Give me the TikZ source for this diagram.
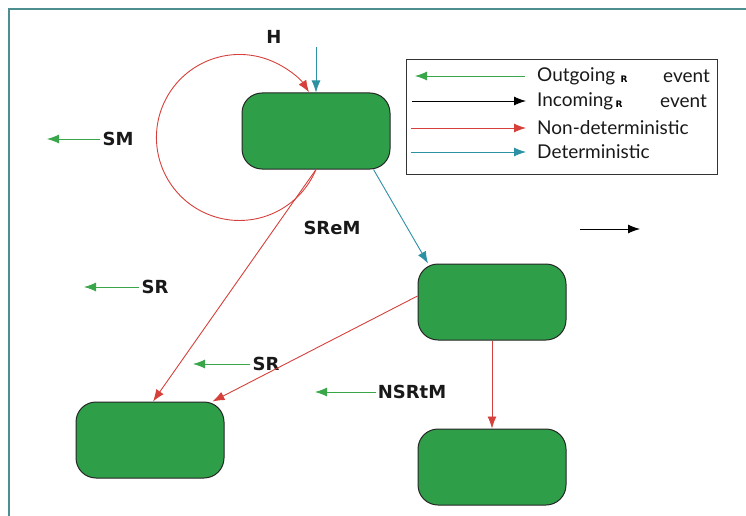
\documentclass[tikz,border=0pt]{standalone}
\usepackage{fontspec}
\setmainfont{Lato}
\newfontfamily\labfont{DejaVu Sans}
\usetikzlibrary{arrows.meta}
\definecolor{stgreen}{RGB}{46,158,72}
\definecolor{ndred}{RGB}{214,64,58}
\definecolor{detteal}{RGB}{43,145,163}
\definecolor{outgreen}{RGB}{58,166,74}
\definecolor{framec}{RGB}{77,143,144}
\tikzset{
  stbox/.style={draw=black!85, line width=1pt, fill=stgreen, rounded corners=20pt,
    minimum width=148pt, minimum height=76pt, inner sep=0pt},
  tip/.style={-{Latex[length=12pt,width=9pt]}},
  ndline/.style={tip, draw=ndred, line width=0.9pt},
  detline/.style={tip, draw=detteal, line width=0.9pt},
  outline/.style={tip, draw=outgreen, line width=0.9pt},
  inline/.style={tip, draw=black, line width=0.9pt},
  lab/.style={font=\labfont\bfseries\fontsize{18}{20}\selectfont, inner sep=2pt, text=black!90},
  legtext/.style={anchor=west, inner sep=0pt, font=\fontsize{19}{21}\selectfont, text=black!90},
  glyph/.style={inner sep=0pt, font=\labfont\bfseries\fontsize{9}{10}\selectfont}
}
\begin{document}
\begin{tikzpicture}[x=1pt,y=-1pt]
\useasboundingbox (0,0) rectangle (746,516);
% frame
\draw[framec, line width=1.5pt] (9,516) -- (9,9) -- (746,9);
% states
\node[stbox] (A) at (316,131) {};
\node[stbox] (B) at (492,302) {};
\node[stbox] (C) at (150,440) {};
\node[stbox] (D) at (492,467) {};
% labels
\node[lab] (lH) at (274,37) {H};
\node[lab] (l1) at (118,139) {SM};
\node[lab] (lm) at (332,228) {SReM};
\node[lab] (l2) at (155,287) {SR};
\node[lab] (l3) at (266,364) {SR};
\node[lab] (l4) at (412,392) {NSRtM};
% connectors
\coordinate (tin) at (316,47);
\draw[detline] (tin) -- (A.north);
\draw[ndline] (A.south) arc[start angle=22.7, end angle=327, radius=83];
\draw[ndline] (A.south) -- ([xshift=3pt]C.north);
\draw[detline] ([xshift=-17pt]A.south east) -- ([xshift=-64pt]B.north);
\draw[ndline] ([yshift=6pt]B.west) -- ([xshift=-12pt]C.north east);
\draw[ndline] (B.south) -- (D.north);
% outgoing events
\coordinate (o1) at (47,139);
\coordinate (o2) at (84,287);
\coordinate (o3) at (193,364);
\coordinate (o4) at (315,392);
\draw[outline] (l1.west) -- (o1);
\draw[outline] (l2.west) -- (o2);
\draw[outline] (l3.west) -- (o3);
\draw[outline] (l4.west) -- (o4);
% incoming event
\coordinate (i1) at (580,229);
\coordinate (i2) at (640,229);
\draw[inline] (i1) -- (i2);
% legend
\node[draw=black!80, line width=0.8pt, minimum width=311pt, minimum height=115pt, inner sep=0pt] (leg) at (561.5,116.5) {};
\coordinate (g1a) at (525,76);  \coordinate (g1b) at (415,76);
\coordinate (g2a) at (412,101); \coordinate (g2b) at (526,101);
\coordinate (g3a) at (411,128); \coordinate (g3b) at (526,128);
\coordinate (g4a) at (411,152); \coordinate (g4b) at (526,152);
\draw[outline] (g1a) -- (g1b);
\draw[inline] (g2a) -- (g2b);
\draw[ndline] (g3a) -- (g3b);
\draw[detline] (g4a) -- (g4b);
\node[legtext] (t1) at (537,76) {Outgoing};
\node[glyph] (t1g) at (624,79) {R};
\node[legtext] (t1e) at (663,76) {event};
\node[legtext] (t2) at (537,101) {Incoming};
\node[glyph] (t2g) at (619,104) {R};
\node[legtext] (t2e) at (660,101) {event};
\node[legtext] (t3) at (537,128) {Non-deterministic};
\node[legtext] (t4) at (537,152) {Deterministic};
\end{tikzpicture}
\end{document}
